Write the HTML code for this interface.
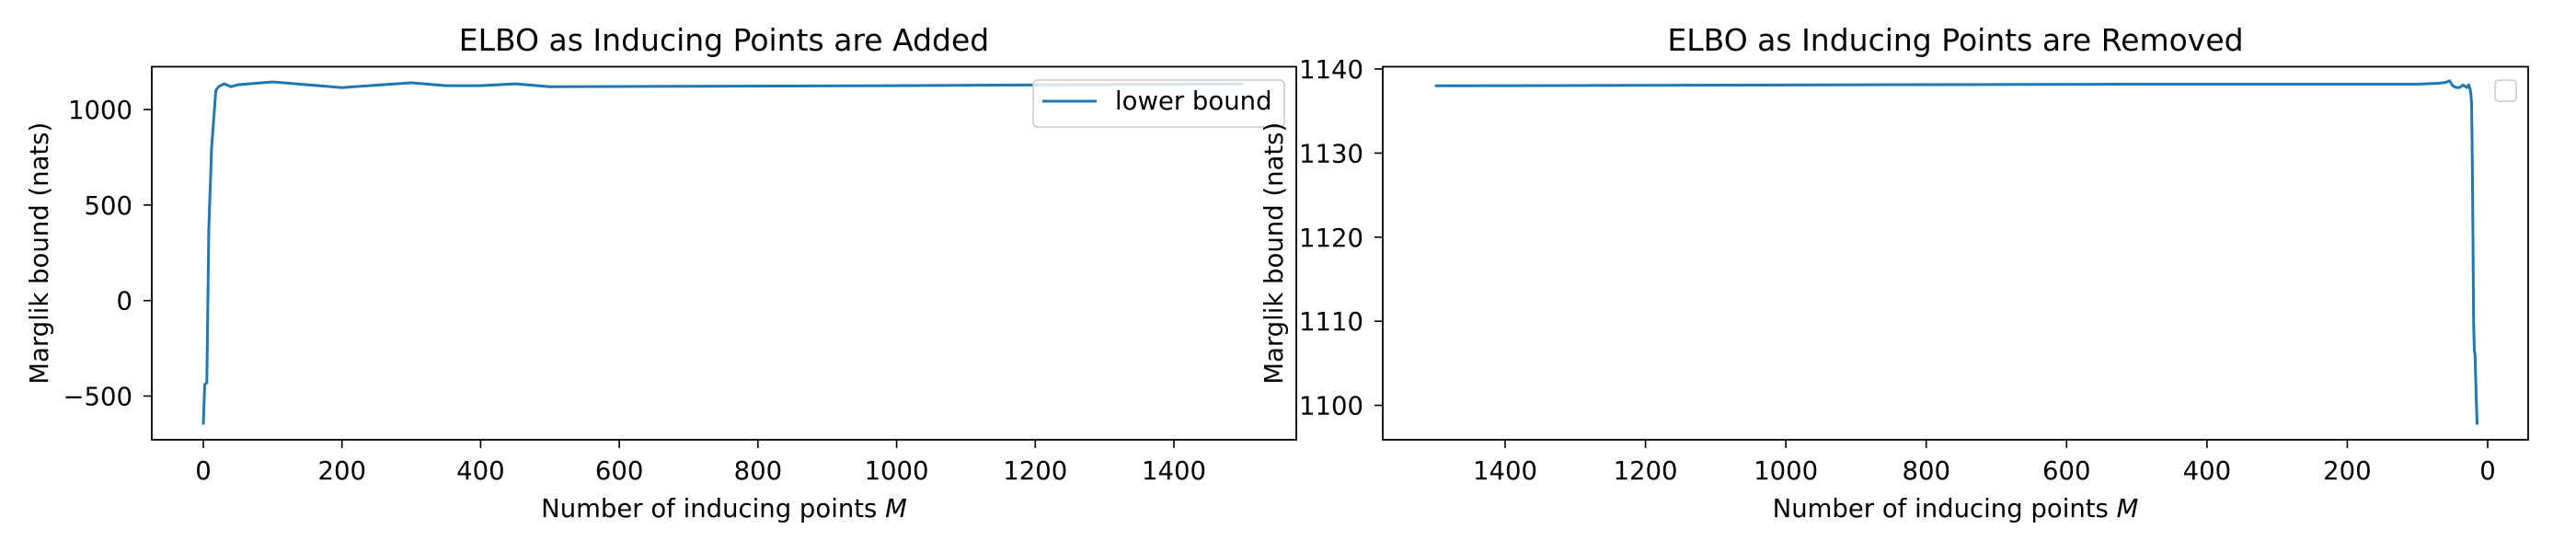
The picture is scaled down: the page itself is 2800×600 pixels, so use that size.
<!DOCTYPE html>
<html><head><meta charset="utf-8"><style>
html,body{margin:0;padding:0;background:#fff;}
svg{display:block;font-family:"DejaVu Sans","Liberation Sans",sans-serif;}
</style></head><body>
<svg id="chart" width="2800" height="600" viewBox="0 0 2800 600" xmlns="http://www.w3.org/2000/svg">
<g id="left"></g>
<g id="right"></g>
</svg>
<script>
const addedM = [0, 2, 5, 8, 12, 18, 22, 30, 40, 50, 100, 200, 300, 350, 400, 450, 500, 1000, 1500];
const addedVals = [-650, -440, -430, 380, 800, 1100, 1120, 1135, 1120, 1130, 1145, 1115, 1140, 1125, 1125, 1135, 1120, 1125, 1135];
const addedXTicks = [0, 200, 400, 600, 800, 1000, 1200, 1400];
const addedYTicks = [-500, 0, 500, 1000];
const removedM = [1500, 1000, 500, 100, 70, 60, 54, 50, 45, 40, 35, 30, 27, 25, 24, 23, 22, 21, 20, 19, 18, 17, 16, 15];
const removedVals = [1138, 1138.1, 1138.2, 1138.2, 1138.3, 1138.4, 1138.6, 1138.0, 1137.8, 1137.8, 1138.1, 1137.8, 1138.1, 1137.6, 1137.0, 1136.0, 1130.0, 1120.0, 1110.0, 1106.5, 1106.0, 1103.0, 1100.0, 1097.7];
const removedXTicks = [1400, 1200, 1000, 800, 600, 400, 200, 0];
const removedYTicks = [1100, 1110, 1120, 1130, 1140];

const NS = "http://www.w3.org/2000/svg";
const FS = 27.5;
function mk(parent, tag, attrs, text) {
  const e = document.createElementNS(NS, tag);
  for (const k in attrs) e.setAttribute(k, attrs[k]);
  if (text !== undefined) e.textContent = text;
  parent.appendChild(e);
  return e;
}

function panel(g, cfg) {
  const {x0, x1, y0, y1, xs, ys} = cfg;
  cfg.xticks.forEach(t => {
    const X = xs(t);
    const tk = mk(g, "line", {x1: X, x2: X, y1: y1, y2: y1 + 9, stroke: "#000", "stroke-width": 1.6});
    
    
    const lb = mk(g, "text", {x: X, y: 521, "font-size": FS, "text-anchor": "middle"}, String(t));
    
    
  });
  cfg.yticks.forEach(t => {
    const Y = ys(t);
    const tk = mk(g, "line", {x1: x0 - 9, x2: x0, y1: Y, y2: Y, stroke: "#000", "stroke-width": 1.6});
    
    
    const lb = mk(g, "text", {x: x0 - 21, y: Y + 10, "font-size": FS, "text-anchor": "end"}, String(t).replace("-", "\u2212"));
    
    
  });
  const pts = cfg.m.map((m, i) => xs(m).toFixed(1) + "," + ys(cfg.v[i]).toFixed(1)).join(" ");
  const ln = mk(g, "polyline", {points: pts, fill: "none", stroke: "#1f77b4", "stroke-width": 3, "stroke-linejoin": "round"});
  
  
  const fr = mk(g, "rect", {x: x0, y: y0, width: x1 - x0, height: y1 - y0, fill: "none", stroke: "#000", "stroke-width": 1.8});
  
  
  const ti = mk(g, "text", {x: (x0 + x1) / 2, y: 55, "font-size": 33, "text-anchor": "middle"}, cfg.title);
  
  
  const xl = mk(g, "text", {x: (x0 + x1) / 2, y: 562, "font-size": FS, "text-anchor": "middle"});
  
  
  xl.appendChild(document.createTextNode("Number of inducing points "));
  mk(xl, "tspan", {"font-style": "italic"}, "M");
  const yl = mk(g, "text", {x: 0, y: 0, "font-size": FS, "text-anchor": "middle", transform: "translate(" + cfg.ylx + "," + ((y0 + y1) / 2) + ") rotate(-90)"}, "Marglik bound (nats)");
  
  
}

const L = document.getElementById("left");
panel(L, {
  x0: 165, x1: 1409, y0: 72.5, y1: 478,
  xs: m => 221 + m * (1276 - 221) / 1400,
  ys: v => 326.7 - v * 103.8 / 500,
  xticks: addedXTicks, yticks: addedYTicks, m: addedM, v: addedVals,
  title: "ELBO as Inducing Points are Added", ylx: 52
});
const lg = mk(L, "g", {});


mk(lg, "rect", {x: 1123, y: 87, width: 273, height: 51, rx: 5, fill: "rgba(255,255,255,0.8)", stroke: "#ccc", "stroke-width": 1.6});
mk(lg, "line", {x1: 1133, x2: 1192, y1: 110, y2: 110, stroke: "#1f77b4", "stroke-width": 3});
const lt = mk(lg, "text", {x: 1212, y: 119, "font-size": FS}, "lower bound");



const R = document.getElementById("right");
panel(R, {
  x0: 1503, x1: 2748, y0: 72.5, y1: 478,
  xs: m => 2704 - m * (2704 - 1636) / 1400,
  ys: v => 75 + (1140 - v) * 9.14,
  xticks: removedXTicks, yticks: removedYTicks, m: removedM, v: removedVals,
  title: "ELBO as Inducing Points are Removed", ylx: 1394
});
const lg2 = mk(R, "rect", {x: 2712, y: 87, width: 23, height: 23, rx: 4, fill: "#fff", stroke: "#ccc", "stroke-width": 1.6});


</script>
</body></html>
